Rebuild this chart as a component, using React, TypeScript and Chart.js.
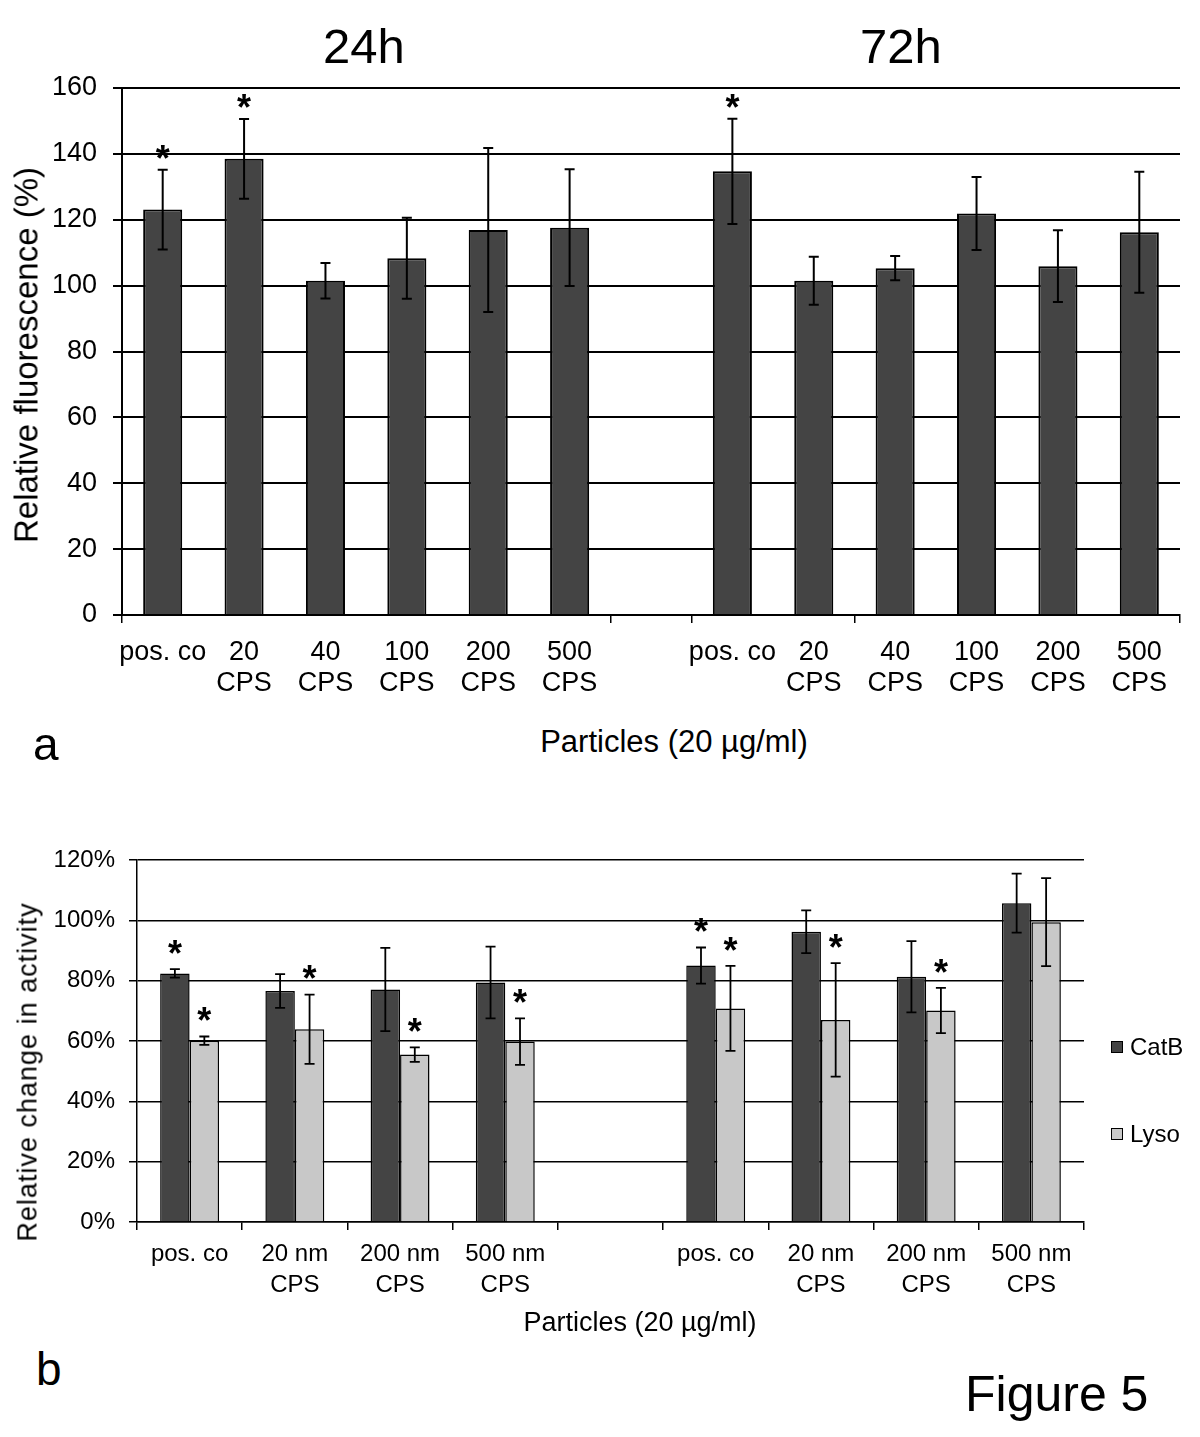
import React, { useEffect, useRef } from "react";
import { Chart, registerables } from "chart.js";

Chart.register(...registerables);

const FONT = '"Liberation Sans", Arial, Helvetica, sans-serif';

// ---------- Panel a data ----------
const panelAGroupTitles = ["24h", "72h"];
const panelACategories: (string | string[])[] = [
  "pos. co", ["20", "CPS"], ["40", "CPS"], ["100", "CPS"], ["200", "CPS"], ["500", "CPS"],
  "",
  "pos. co", ["20", "CPS"], ["40", "CPS"], ["100", "CPS"], ["200", "CPS"], ["500", "CPS"],
];
const panelAValues = [123.1, 138.5, 101.5, 108.3, 116.9, 117.6, null, 134.7, 101.5, 105.3, 121.9, 105.9, 116.2];
const panelAErrors = [12.1, 12.1, 5.4, 12.3, 24.9, 17.7, null, 16.0, 7.3, 3.7, 11.1, 10.9, 18.4];
const panelASignificant = [true, true, false, false, false, false, false, true, false, false, false, false, false];
const panelAYMax = 160;
const panelAYStep = 20;
const panelAYTitle = "Relative fluorescence (%)";
const panelAXTitle = "Particles (20 µg/ml)";

// ---------- Panel b data ----------
const panelBCategories: (string | string[])[] = [
  "pos. co", ["20 nm", "CPS"], ["200 nm", "CPS"], ["500 nm", "CPS"],
  "",
  "pos. co", ["20 nm", "CPS"], ["200 nm", "CPS"], ["500 nm", "CPS"],
];
const seriesNames = ["CatB", "Lyso"];
const catBValues = [82.4, 76.6, 77.1, 79.4, null, 85.0, 96.2, 81.3, 105.7];
const catBErrors = [1.4, 5.6, 13.8, 11.9, null, 6.0, 7.1, 11.8, 9.8];
const catBSignificant = [true, false, false, false, false, true, false, false, false];
const lysoValues = [60.1, 63.9, 55.5, 59.8, null, 70.8, 67.0, 70.1, 99.4];
const lysoErrors = [1.4, 11.5, 2.4, 7.7, null, 14.1, 18.8, 7.5, 14.6];
const lysoSignificant = [true, true, true, true, false, true, true, true, false];
const panelBYMax = 120;
const panelBYStep = 20;
const panelBYTitle = "Relative change in activity";
const panelBXTitle = "Particles (20 µg/ml)";

const DARK = "#444444";
const LIGHT = "#c8c8c8";

const errorBarPlugin = {
  id: "errorBars",
  afterDatasetsDraw(chart: any, _args: any, opts: any) {
    const { ctx } = chart;
    const yScale = chart.scales.y;
    const errors = opts.errors || [];
    const stars = opts.stars || [];
    ctx.save();
    chart.data.datasets.forEach((ds: any, di: number) => {
      const meta = chart.getDatasetMeta(di);
      meta.data.forEach((bar: any, i: number) => {
        const v = ds.data[i];
        const e = errors[di] ? errors[di][i] : null;
        if (v == null || e == null) return;
        const x = bar.x;
        const yHi = yScale.getPixelForValue(v + e);
        const yLo = yScale.getPixelForValue(v - e);
        ctx.strokeStyle = "#000";
        ctx.lineWidth = opts.lineWidth;
        ctx.beginPath();
        ctx.moveTo(x, yHi);
        ctx.lineTo(x, yLo);
        ctx.moveTo(x - opts.cap, yHi);
        ctx.lineTo(x + opts.cap, yHi);
        ctx.moveTo(x - opts.cap, yLo);
        ctx.lineTo(x + opts.cap, yLo);
        ctx.stroke();
        if (stars[di] && stars[di][i]) {
          ctx.fillStyle = "#000";
          ctx.font = `bold ${opts.starSize}px ${FONT}`;
          ctx.textAlign = "center";
          ctx.textBaseline = "alphabetic";
          ctx.fillText("*", x, yHi - opts.starGap + opts.starSize * 0.58);
        }
      });
    });
    ctx.restore();
  },
};

type TextProps = {
  x: number;
  y: number;
  size: number;
  text: string;
  anchor?: "center" | "left";
  rotate?: boolean;
  spacing?: number;
};

function Txt({ x, y, size, text, anchor = "center", rotate = false, spacing = 0 }: TextProps) {
  let transform = anchor === "center" ? "translate(-50%, -50%)" : "translate(0, -50%)";
  if (rotate) transform += " rotate(-90deg)";
  return (
    <div
      style={{
        position: "absolute",
        left: x,
        top: y,
        transform,
        fontSize: size,
        fontFamily: FONT,
        lineHeight: 1,
        whiteSpace: "nowrap",
        color: "#000",
        letterSpacing: spacing,
      }}
    >
      {text}
    </div>
  );
}

export default function App() {
  const topRef = useRef<HTMLCanvasElement>(null);
  const botRef = useRef<HTMLCanvasElement>(null);

  useEffect(() => {
    Chart.defaults.font.family = FONT;
    const topEdgeTicks = [0, 6, 7, 9];

    const top = new Chart(topRef.current as HTMLCanvasElement, {
      type: "bar",
      data: {
        labels: panelACategories as any,
        datasets: [
          {
            data: panelAValues as any,
            backgroundColor: DARK,
            borderColor: "#000",
            borderWidth: 2,
            categoryPercentage: 0.48,
            barPercentage: 1,
          },
        ],
      },
      options: {
        responsive: false,
        maintainAspectRatio: false,
        animation: false,
        layout: { padding: { top: 88, right: 20, left: 0, bottom: 0 } },
        plugins: {
          legend: { display: false },
          tooltip: { enabled: false },
          errorBars: {
            errors: [panelAErrors],
            stars: [panelASignificant],
            cap: 5,
            lineWidth: 2,
            starSize: 36,
            starGap: 20,
          },
        } as any,
        scales: {
          x: {
            type: "category",
            offset: true,
            grid: {
              drawOnChartArea: false,
              drawTicks: true,
              tickLength: 8,
              lineWidth: 1.5,
              tickColor: (ctx: any) =>
                ctx.index === undefined || topEdgeTicks.includes(ctx.index) ? "#000" : "rgba(0,0,0,0)",
            },
            border: { display: true, color: "#000", width: 2 },
            ticks: {
              color: "#000",
              font: { size: 27, lineHeight: 1.15 },
              padding: 14,
              autoSkip: false,
              maxRotation: 0,
              minRotation: 0,
            },
            afterFit: (s: any) => {
              s.height = 105;
            },
          },
          y: {
            min: 0,
            max: panelAYMax,
            ticks: { stepSize: panelAYStep, color: "#000", font: { size: 27 }, padding: 16 },
            grid: { color: "#000", lineWidth: 2, tickLength: 9 },
            border: { display: true, color: "#000", width: 2 },
            afterFit: (s: any) => {
              s.width = 122;
            },
          },
        },
      } as any,
      plugins: [errorBarPlugin as any],
    });

    const bot = new Chart(botRef.current as HTMLCanvasElement, {
      type: "bar",
      data: {
        labels: panelBCategories as any,
        datasets: [
          {
            label: seriesNames[0],
            data: catBValues as any,
            backgroundColor: DARK,
            borderColor: "#000",
            borderWidth: 1.5,
            categoryPercentage: 0.56,
            barPercentage: 1,
          },
          {
            label: seriesNames[1],
            data: lysoValues as any,
            backgroundColor: LIGHT,
            borderColor: "#000",
            borderWidth: 1.5,
            categoryPercentage: 0.56,
            barPercentage: 1,
          },
        ],
      },
      options: {
        responsive: false,
        maintainAspectRatio: false,
        animation: false,
        layout: { padding: { top: 60, right: 116, left: 0, bottom: 0 } },
        plugins: {
          legend: { display: false },
          tooltip: { enabled: false },
          errorBars: {
            errors: [catBErrors, lysoErrors],
            stars: [catBSignificant, lysoSignificant],
            cap: 5,
            lineWidth: 1.8,
            starSize: 36,
            starGap: 24,
          },
        } as any,
        scales: {
          x: {
            type: "category",
            offset: true,
            grid: {
              drawOnChartArea: false,
              drawTicks: true,
              tickLength: 8,
              lineWidth: 1.5,
              color: "#000",
              tickColor: "#000",
            },
            border: { display: true, color: "#000", width: 1.5 },
            ticks: {
              color: "#000",
              font: { size: 24, lineHeight: 1.29 },
              padding: 8.5,
              autoSkip: false,
              maxRotation: 0,
              minRotation: 0,
            },
            afterFit: (s: any) => {
              s.height = 118;
            },
          },
          y: {
            min: 0,
            max: panelBYMax,
            ticks: {
              stepSize: panelBYStep,
              color: "#000",
              font: { size: 24 },
              padding: 14,
              callback: (v: any) => `${v}%`,
            },
            grid: { color: "#000", lineWidth: 1.5, tickLength: 8 },
            border: { display: true, color: "#000", width: 1.5 },
            afterFit: (s: any) => {
              s.width = 137;
            },
          },
        },
      } as any,
      plugins: [errorBarPlugin as any],
    });

    return () => {
      top.destroy();
      bot.destroy();
    };
  }, []);

  const legendColors = [DARK, LIGHT];
  const legendY = [1047, 1134];

  return (
    <div
      style={{
        position: "absolute",
        left: 0,
        top: 0,
        width: 1200,
        height: 1437,
        background: "#fff",
        overflow: "hidden",
      }}
    >
      <canvas
        ref={topRef}
        width={1200}
        height={720}
        style={{ position: "absolute", left: 0, top: 0, width: 1200, height: 720 }}
      />
      <canvas
        ref={botRef}
        width={1200}
        height={540}
        style={{ position: "absolute", left: 0, top: 800, width: 1200, height: 540 }}
      />

      <Txt x={364} y={46} size={49} text={panelAGroupTitles[0]} />
      <Txt x={901} y={46} size={49} text={panelAGroupTitles[1]} />
      <Txt x={26} y={355} size={33} text={panelAYTitle} rotate />
      <Txt x={674} y={741} size={31} text={panelAXTitle} />
      <Txt x={33} y={744} size={46} text="a" anchor="left" />

      <Txt x={28} y={1072} size={27} text={panelBYTitle} rotate spacing={1} />
      <Txt x={640} y={1322} size={27} text={panelBXTitle} />
      <Txt x={36} y={1369} size={46} text="b" anchor="left" />
      <Txt x={965} y={1394} size={50} text="Figure 5" anchor="left" />

      {seriesNames.map((name, i) => (
        <React.Fragment key={name}>
          <div
            style={{
              position: "absolute",
              left: 1111,
              top: legendY[i] - 6,
              width: 12,
              height: 12,
              boxSizing: "border-box",
              border: "1px solid #000",
              background: legendColors[i],
            }}
          />
          <Txt x={1130} y={legendY[i]} size={24} text={name} anchor="left" />
        </React.Fragment>
      ))}
    </div>
  );
}
